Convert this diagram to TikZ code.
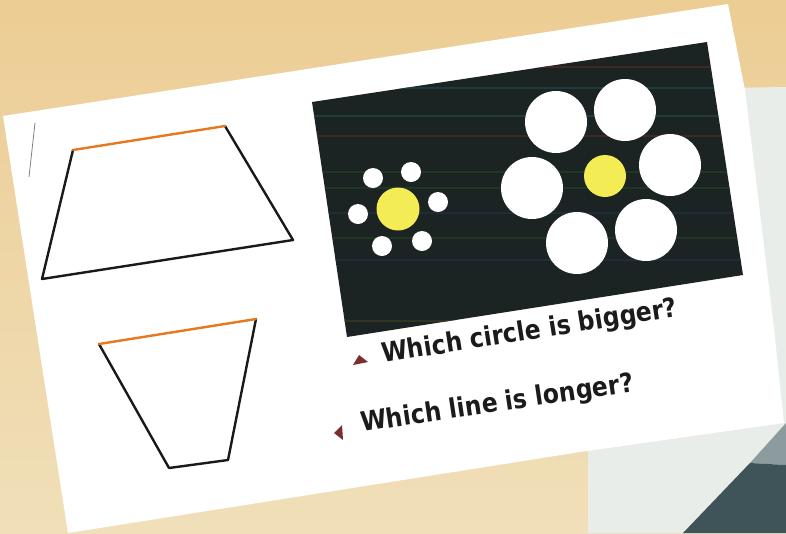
\documentclass[tikz,border=0pt]{standalone}
\usepackage{fontspec}
\newfontfamily\qfont[FakeStretch=0.88]{DejaVu Sans}
\definecolor{tanA}{HTML}{ECCD94}
\definecolor{tanB}{HTML}{F0DFB9}
\definecolor{paperB}{HTML}{E9EDEA}
\definecolor{slateA}{HTML}{3F5458}
\definecolor{slateB}{HTML}{8C9C9E}
\definecolor{boxdark}{HTML}{1C2323}
\definecolor{sunny}{HTML}{F3EC55}
\definecolor{orangeline}{HTML}{E8781E}
\definecolor{markred}{HTML}{7A2E2E}
\definecolor{textdark}{HTML}{1B1B1B}
\definecolor{scanred}{HTML}{5A2B2B}
\definecolor{scanteal}{HTML}{1F4D4C}
\definecolor{scangreen}{HTML}{22442A}
\definecolor{scanblue}{HTML}{24324A}
\definecolor{scanolive}{HTML}{3E3A22}
\begin{document}
\begin{tikzpicture}[x=0.75pt,y=-0.75pt,
  figline/.style={line width=1.8pt, line join=round, line cap=round, draw=black!90},
  topline/.style={line width=1.8pt, line cap=round, draw=orangeline},
  qtext/.style={font=\qfont\bfseries\fontsize{20}{22}\selectfont, text=textdark, inner sep=0pt, anchor=base west},
  marker/.style={fill=markred, draw=none},
  dotw/.style={fill=white, draw=none},
  scan/.style={line width=0.8pt, opacity=0.6}
]
\useasboundingbox (0,0) rectangle (786,533);
% background
\shade[top color=tanA, bottom color=tanB] (0,0) rectangle (786,533);
% second paper behind
\fill[paperB] (588,90) -- (786,87) -- (786,533) -- (588,533) -- cycle;
\fill[slateB] (786,423) -- (750,463) -- (786,465) -- cycle;
\fill[slateA] (750,463) -- (786,465) -- (786,533) -- (683,533) -- cycle;
% main card
\fill[white] (3,116) -- (728,4) -- (745,90) -- (773,320) -- (784,423) -- (580,452) -- (68,533) -- cycle;
% small mark at left
\draw[gray, line width=0.6pt] (35,123) -- (29,177);
% picture box
\coordinate (bTL) at (312,102);
\coordinate (bTR) at (707,42);
\coordinate (bBR) at (743,275);
\coordinate (bBL) at (347,337);
\fill[boxdark] (bTL) -- (bTR) -- (bBR) -- (bBL) -- cycle;
\begin{scope}
  \clip (bTL) -- (bTR) -- (bBR) -- (bBL) -- cycle;
  \draw[scan, scanred] (300,67) -- (750,67);
  \draw[scan, scanteal] (300,88) -- (750,88);
  \draw[scan, scanteal] (300,116) -- (750,116);
  \draw[scan, scanred] (300,136) -- (750,136);
  \draw[scan, scangreen] (300,172) -- (750,172);
  \draw[scan, scangreen] (300,188) -- (750,188);
  \draw[scan, scanblue] (300,213) -- (750,213);
  \draw[scan, scangreen] (300,238) -- (750,238);
  \draw[scan, scanblue] (300,260) -- (750,260);
  \draw[line width=2pt, scanolive, opacity=0.7] (300,321) -- (750,321);
\end{scope}
% small-ring illusion
\fill[sunny] (398,209) circle[radius=21.5];
\fill[dotw] (373,178) circle[radius=10];
\fill[dotw] (411,172) circle[radius=10];
\fill[dotw] (438,202) circle[radius=10];
\fill[dotw] (422,241) circle[radius=10];
\fill[dotw] (382,246) circle[radius=10];
\fill[dotw] (358,214) circle[radius=10];
% large-ring illusion
\fill[sunny] (605,176) circle[radius=21];
\fill[dotw] (556,122) circle[radius=31];
\fill[dotw] (625,110) circle[radius=31];
\fill[dotw] (670,165) circle[radius=31];
\fill[dotw] (646,230) circle[radius=31];
\fill[dotw] (577,243) circle[radius=31];
\fill[dotw] (532,188) circle[radius=31];
% trapezoid 1
\coordinate (aTL) at (73,150);
\coordinate (aTR) at (225,126);
\coordinate (aBR) at (293,240);
\coordinate (aBL) at (42,279);
\draw[figline] (aTR) -- (aBR) -- (aBL) -- (aTL);
\draw[topline] (aTL) -- (aTR);
% trapezoid 2
\coordinate (cTL) at (99,344);
\coordinate (cTR) at (256,319);
\coordinate (cBR) at (228,460);
\coordinate (cBL) at (169,468);
\draw[figline] (cTR) -- (cBR) -- (cBL) -- (cTL);
\draw[topline] (cTL) -- (cTR);
% captions
\fill[marker] (353,365) -- (368,362) -- (359,355) -- cycle;
\node[qtext, rotate=9] (q1) at (383,363) {Which circle is bigger?};
\fill[marker] (334,433) -- (342,425) -- (343,440) -- cycle;
\node[qtext, rotate=8.5] (q2) at (362,432) {Which line is longer?};
\end{tikzpicture}
\end{document}
